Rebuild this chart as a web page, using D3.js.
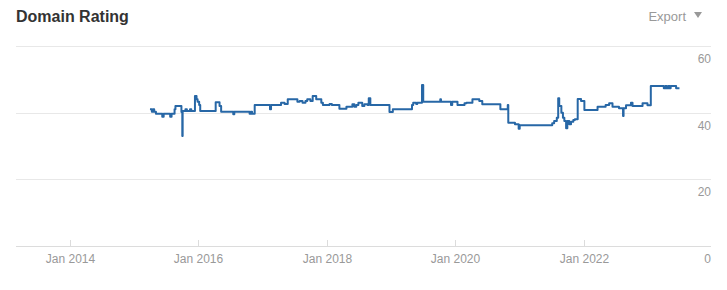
<!DOCTYPE html>
<html><head><meta charset="utf-8">
<script src="https://cdn.jsdelivr.net/npm/d3@7"></script>
<style>
html,body{margin:0;padding:0;background:#fff;}
svg{display:block;font-family:"Liberation Sans",Arial,sans-serif;}
</style></head>
<body>
<svg id="chart" width="727" height="290"></svg>
<script>
const dates = [
"2015-04-01","2015-04-12","2015-04-18","2015-04-25","2015-05-05","2015-06-10","2015-06-18",
"2015-07-25","2015-08-02","2015-08-19","2015-08-24","2015-09-27","2015-10-02","2015-10-04",
"2015-10-20","2015-10-28","2015-11-15","2015-11-22","2015-12-13","2015-12-22","2015-12-28",
"2016-01-06","2016-01-12","2016-04-09","2016-05-01","2016-05-10","2016-07-18","2016-07-24",
"2016-10-19","2016-10-26","2016-11-02","2016-11-17","2017-02-12","2017-02-18","2017-04-16",
"2017-05-06","2017-05-24","2017-07-18","2017-07-31","2017-08-16","2017-09-02","2017-09-12",
"2017-09-30","2017-10-13","2017-11-02","2017-12-01","2017-12-10","2018-01-17","2018-01-30",
"2018-03-14","2018-04-23","2018-05-27","2018-06-07","2018-06-18","2018-06-30","2018-07-22",
"2018-08-03","2018-08-21","2018-08-28","2018-09-06","2018-12-24","2019-01-12","2019-05-01",
"2019-05-08","2019-05-25","2019-05-31","2019-06-27","2019-07-04","2019-10-09","2019-10-13",
"2019-12-09","2019-12-16","2020-01-15","2020-02-24","2020-03-06","2020-04-09","2020-05-18",
"2020-06-04","2020-09-15","2020-10-27","2020-10-30","2020-12-07","2020-12-28","2021-01-03",
"2021-07-07","2021-07-18","2021-08-02","2021-08-10","2021-08-16","2021-08-28","2021-09-06",
"2021-09-14","2021-09-24","2021-10-01","2021-10-12","2021-10-22","2021-11-04","2021-11-13",
"2021-11-29","2021-12-18","2022-01-06","2022-03-22","2022-05-07","2022-05-27","2022-06-15",
"2022-07-22","2022-08-14","2022-08-17","2022-08-31","2022-09-28","2022-10-07","2022-12-03",
"2022-12-31","2023-01-19","2023-04-03","2023-04-12","2023-04-20","2023-04-28","2023-05-06",
"2023-05-12","2023-06-12","2023-07-01"
];
const values = [
41,40.3,41,40.3,39.7,38.8,39.7,
38.8,39.7,41,42,40.2,33,40.5,
41,40.5,41,40.5,45,44,43.3,
42.3,40.5,43.1,42,40.3,39.5,40.3,
39.7,40.3,39.7,42.3,41,42.3,43,
42.6,44,43.3,43.5,43,43.5,44,
43.5,45,44,43,42.3,42.6,42.3,
41.2,41.8,42.5,41.8,42.3,43,42,
42.5,42.3,44.3,42.3,40.2,41,42.3,
43,42.6,43,48.3,43.3,44,43.3,
42.3,43.3,42.3,42.8,43,44,43.5,
42.5,41,42.3,37,36.5,35.2,36.2,
36.8,37.5,38.5,44.3,42,40,38.5,
37.5,35.3,37.5,36.5,37.3,37.8,38,
44.1,43.5,40.8,41.8,42.3,42.8,41.8,
41.3,39,41.3,42.2,43,42,42.8,
42.2,48,47.3,48,47.3,48,47.3,
48,47.3,47.3
];
const xTickDates = ["2014-01-01","2016-01-01","2018-01-01","2020-01-01","2022-01-01"];
const xTickLabels = ["Jan 2014","Jan 2016","Jan 2018","Jan 2020","Jan 2022"];
const yTicks = [0,20,40,60];
const titleText = "Domain Rating";
const exportText = "Export";

const parse = d3.utcParse("%Y-%m-%d");
const data = dates.map((d,i)=>({date:parse(d), value:values[i]}));

const svg = d3.select("#chart");
const plotLeft = 16, plotRight = 711;
const x = d3.scaleUtc().domain([parse("2014-01-01"), parse("2022-01-01")]).range([70, 583.5]);
const y = d3.scaleLinear().domain([0,60]).range([246,46]);

// title
svg.append("text").attr("x",16).attr("y",22).attr("font-size",16).attr("font-weight","bold")
  .attr("fill","#333").text(titleText);
svg.append("text").attr("x",686).attr("y",21).attr("font-size",13).attr("fill","#999")
  .attr("text-anchor","end").text(exportText);
svg.append("path").attr("d","M694,12 L702,12 L698,18 Z").attr("fill","#999");

// grid
const grid = svg.append("g");
yTicks.forEach(t=>{
  grid.append("line").attr("x1",plotLeft).attr("x2",plotRight)
    .attr("y1",Math.round(y(t))+0.5).attr("y2",Math.round(y(t))+0.5)
    .attr("stroke", t===0 ? "#dcdcdc" : "#e8e8e8").attr("stroke-width",1);
  grid.append("text").attr("x",plotRight).attr("y",y(t)+17).attr("text-anchor","end")
    .attr("font-size",12).attr("fill","#999").text(t);
});

// x ticks
xTickDates.forEach((d,i)=>{
  const xp = Math.round(x(parse(d)))+0.5;
  svg.append("line").attr("x1",xp).attr("x2",xp).attr("y1",240).attr("y2",246)
    .attr("stroke","#dcdcdc");
  svg.append("text").attr("x",xp).attr("y",263).attr("text-anchor","middle")
    .attr("font-size",12).attr("fill","#999").text(xTickLabels[i]);
});

// line
const line = d3.line().x(d=>x(d.date)).y(d=>y(d.value)).curve(d3.curveStepAfter);
svg.append("path").datum(data).attr("d",line).attr("fill","none")
  .attr("stroke","#2767a6").attr("stroke-width",2).attr("stroke-linejoin","round");
</script>
</body></html>
